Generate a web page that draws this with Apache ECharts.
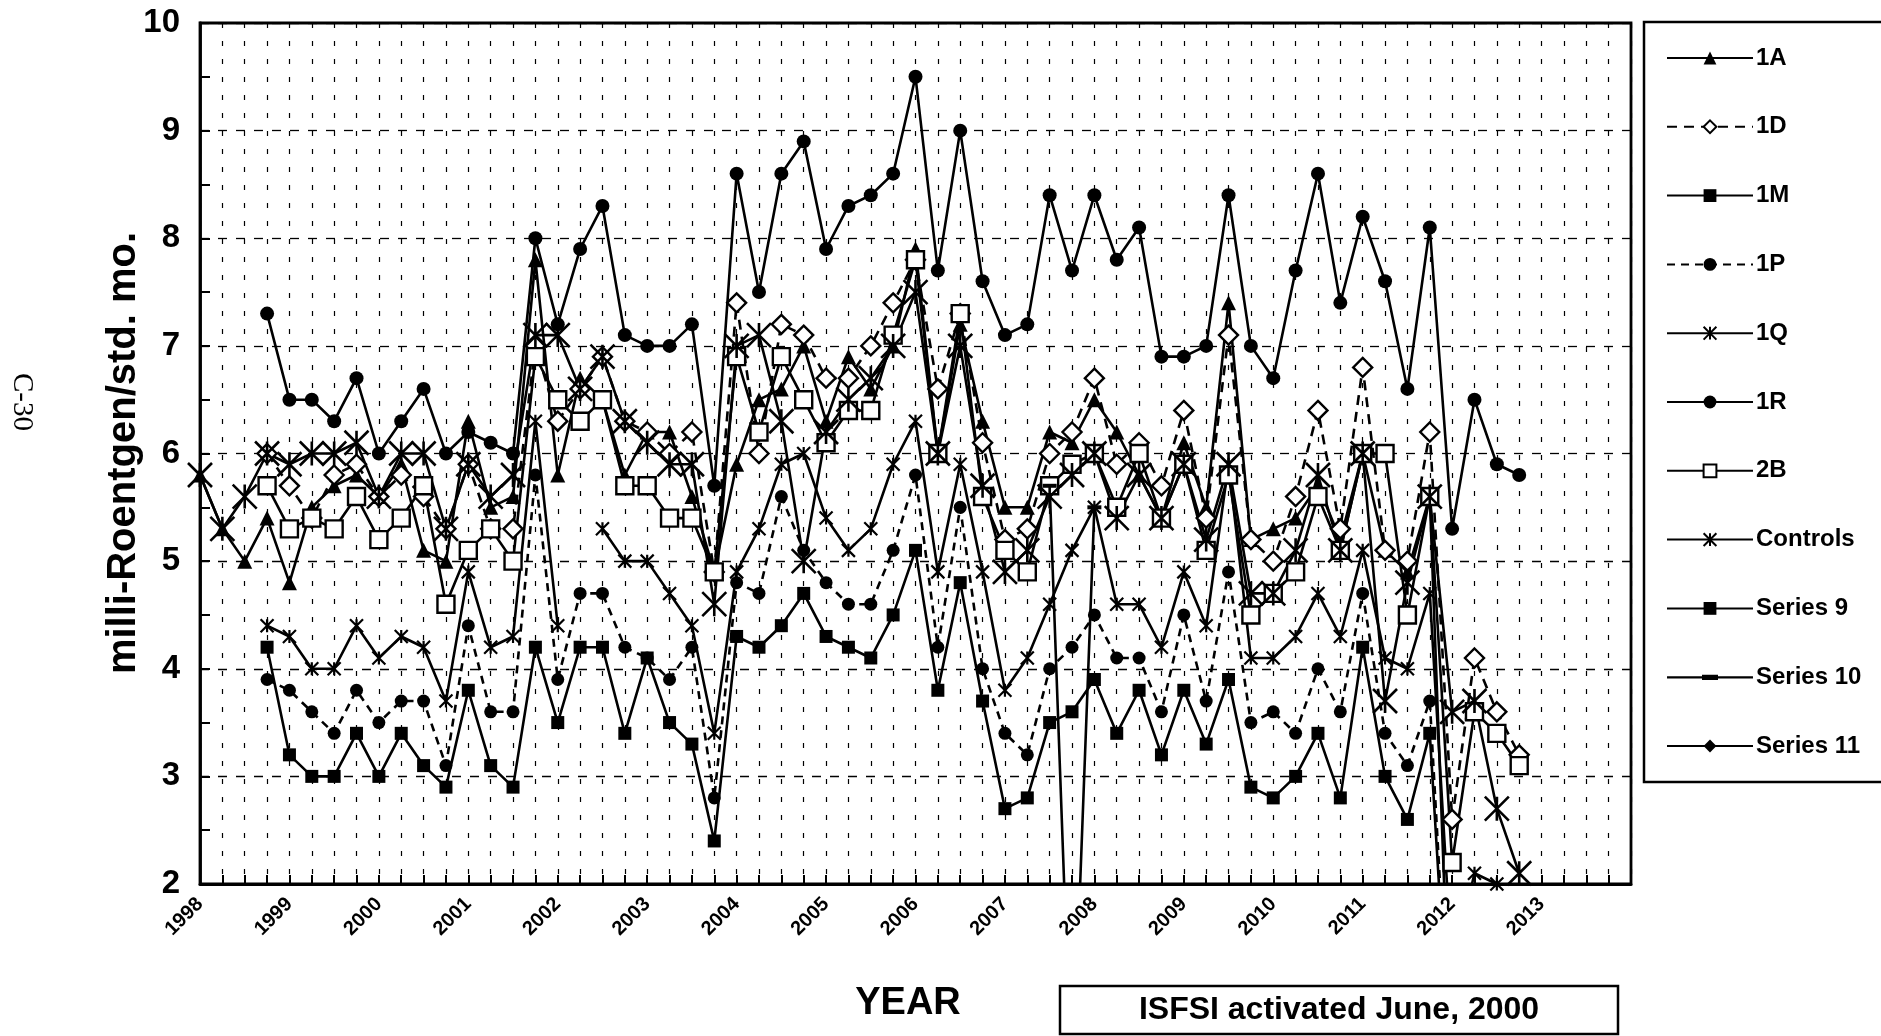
<!DOCTYPE html>
<html>
<head>
<meta charset="utf-8">
<script src="https://cdn.jsdelivr.net/npm/echarts/dist/echarts.min.js"></script>
<style>
html,body{margin:0;padding:0;background:#fff;}
#chart{width:1881px;height:1036px;}
</style>
</head>
<body>
<div id="chart"></div>
<script>
// ---------- DATA ----------
const years = ['1998','1999','2000','2001','2002','2003','2004','2005','2006','2007','2008','2009','2010','2011','2012','2013','2014'];
const yearLabels = ['1998','1999','2000','2001','2002','2003','2004','2005','2006','2007','2008','2009','2010','2011','2012','2013'];
const quarters = ['Q1','Q2','Q3','Q4'];
const yTicks = [2,3,4,5,6,7,8,9,10];

const s1A = [5.8,5.3,5.0,5.4,4.8,5.5,5.7,5.8,5.6,5.9, 5.1,5.0,6.3,5.5,5.6,7.8,5.8,6.7,6.5,5.8,
             6.2,6.2,5.6,4.9,5.9,6.5,6.6,7.0,6.3,6.9, 6.6,7.0,7.9,6.0,7.2,6.3,5.5,5.5,6.2,6.1,
             6.5,6.2,5.8,5.4,6.1,5.5,7.4,5.2,5.3,5.4, 5.7,5.2,6.0,5.1,4.9,5.6,0];
const s1D = [null,null,null,6.0,5.7,5.4,5.8,5.9,5.6,5.8, 5.6,5.3,5.9,5.3,5.3,7.0,6.3,6.6,6.9,6.3,
             6.2,6.0,6.2,4.9,7.4,6.0,7.2,7.1,6.7,6.7, 7.0,7.4,7.8,6.6,7.3,6.1,5.2,5.3,6.0,6.2,
             6.7,5.9,6.1,5.7,6.4,5.4,7.1,5.2,5.0,5.6, 6.4,5.3,6.8,5.1,5.0,6.2,2.6,4.1,3.6,3.2];
const s1M = [null,null,null,4.2,3.2,3.0,3.0,3.4,3.0,3.4, 3.1,2.9,3.8,3.1,2.9,4.2,3.5,4.2,4.2,3.4,
             4.1,3.5,3.3,2.4,4.3,4.2,4.4,4.7,4.3,4.2, 4.1,4.5,5.1,3.8,4.8,3.7,2.7,2.8,3.5,3.6,
             3.9,3.4,3.8,3.2,3.8,3.3,3.9,2.9,2.8,3.0, 3.4,2.8,4.2,3.0,2.6,3.4,0];
const s1P = [null,null,null,3.9,3.8,3.6,3.4,3.8,3.5,3.7, 3.7,3.1,4.4,3.6,3.6,5.8,3.9,4.7,4.7,4.2,
             4.1,3.9,4.2,2.8,4.8,4.7,5.6,5.1,4.8,4.6, 4.6,5.1,5.8,4.2,5.5,4.0,3.4,3.2,4.0,4.2,
             4.5,4.1,4.1,3.6,4.5,3.7,4.9,3.5,3.6,3.4, 4.0,3.6,4.7,3.4,3.1,3.7,0];
const s1Q = [null,null,null,4.4,4.3,4.0,4.0,4.4,4.1,4.3, 4.2,3.7,4.9,4.2,4.3,6.3,4.4,null,5.3,5.0,
             5.0,4.7,4.4,3.4,4.9,5.3,5.9,6.0,5.4,5.1, 5.3,5.9,6.3,4.9,5.9,4.9,3.8,4.1,4.6,5.1,
             5.5,4.6,4.6,4.2,4.9,4.4,5.9,4.1,4.1,4.3, 4.7,4.3,5.1,4.1,4.0,4.7,1.2,2.1,2.0,1.6];
const s1R = [null,null,null,7.3,6.5,6.5,6.3,6.7,6.0,6.3, 6.6,6.0,6.2,6.1,6.0,8.0,7.2,7.9,8.3,7.1,
             7.0,7.0,7.2,5.7,8.6,7.5,8.6,8.9,7.9,8.3, 8.4,8.6,9.5,7.7,9.0,7.6,7.1,7.2,8.4,7.7,
             8.4,7.8,8.1,6.9,6.9,7.0,8.4,7.0,6.7,7.7, 8.6,7.4,8.2,7.6,6.6,8.1,5.3,6.5,5.9,5.8];
const s2B = [null,null,null,5.7,5.3,5.4,5.3,5.6,5.2,5.4, 5.7,4.6,5.1,5.3,5.0,6.9,6.5,6.3,6.5,5.7,
             5.7,5.4,5.4,4.9,6.9,6.2,6.9,6.5,6.1,6.4, 6.4,7.1,7.8,6.0,7.3,5.6,5.1,4.9,5.7,5.9,
             6.0,5.5,6.0,5.4,5.9,5.1,5.8,4.5,4.7,4.9, 5.6,5.1,6.0,6.0,4.5,5.6,2.2,3.6,3.4,3.1];
const sControls = [5.8,5.3,5.6,6.0,5.9,6.0,6.0,6.1,5.6,6.0, 6.0,5.3,5.9,5.6,5.8,7.1,7.1,6.6,6.9,6.3,
             6.1,5.9,5.9,4.6,7.0,7.1,6.3,5.0,6.2,6.5, 6.7,7.0,7.5,6.0,7.0,5.7,4.9,5.1,5.6,5.8,
             6.0,5.4,5.8,5.4,5.9,5.2,5.9,4.7,4.7,5.1, 5.8,5.1,6.0,3.7,4.8,5.6,3.6,3.7,2.7,2.1];
const s9 = [];
const s10 = [null,null,null,null,null,null,null,null,null,null, null,null,null,null,null,null,null,null,null,null,
             null,null,null,null,null,null,null,null,null,null, null,null,null,null,null,null,null,null,5.7,0,
             5.5];
const s11 = [];

// ---------- BUILD ----------
const categories = [];
years.forEach(y => quarters.forEach(q => categories.push(y + ' ' + q)));
categories.length = 65;

const FONT = 'Liberation Sans, Arial, sans-serif';
const STAR = 'path://M0,0L20,20M20,0L0,20M10,0L10,20';
const DASH = 'path://M0,0L20,0L20,5L0,5Z';
// legend icon for Series 10: a line with a short thick dash in the middle
const DASH_LEGEND = 'path://M0,0L0.01,0L0.01,0.01ZM0,16L0.01,16L0.01,16.01ZM0,7L86,7L86,9.4L0,9.4ZM35,5.6L51,5.6L51,10.8L35,10.8Z';

function mk(name, data, symbol, size, opts) {
  opts = opts || {};
  return {
    name: name,
    type: 'line',
    data: data,
    symbol: symbol,
    symbolSize: size,
    showAllSymbol: true,
    connectNulls: false,
    animation: false,
    z: opts.z || 2,
    lineStyle: { color: '#000', width: 2.6, type: opts.dash || 'solid' },
    itemStyle: opts.open
      ? { color: '#fff', borderColor: '#000', borderWidth: 2.4 }
      : (opts.stroke ? { color: '#000', borderColor: '#000', borderWidth: opts.stroke }
                     : { color: '#000', borderColor: '#000', borderWidth: 0 }),
    emphasis: { disabled: true }
  };
}

const series = [
  mk('1A', s1A, 'triangle', 15),
  mk('1D', s1D, 'diamond', 19, { open: true, dash: [10, 7] }),
  mk('1M', s1M, 'rect', 13),
  mk('1P', s1P, 'circle', 13, { dash: [8, 6] }),
  mk('1Q', s1Q, STAR, 13, { stroke: 2.2 }),
  mk('1R', s1R, 'circle', 14, { z: 3 }),
  mk('2B', s2B, 'rect', 17, { open: true }),
  mk('Controls', sControls, STAR, 24, { stroke: 2.6 }),
  mk('Series 9', s9, 'rect', 13),
  mk('Series 10', s10, DASH, [14, 4]),
  mk('Series 11', s11, 'diamond', 14)
];

const legendData = series.map(s => s.name === 'Series 10' ? { name: s.name, icon: DASH_LEGEND } : { name: s.name });

const chart = echarts.init(document.getElementById('chart'), null, { renderer: 'canvas' });
chart.setOption({
  backgroundColor: '#fff',
  animation: false,
  grid: {
    left: 200, right: 250, top: 23, bottom: 152,
    containLabel: false, outerBoundsMode: 'none',
    show: true, borderColor: '#000', borderWidth: 2.8, backgroundColor: 'transparent'
  },
  xAxis: {
    type: 'category',
    data: categories,
    boundaryGap: false,
    axisLine: { show: true, onZero: false, lineStyle: { color: '#000', width: 2.8 } },
    axisTick: { show: true, inside: true, length: 9, interval: 0, lineStyle: { color: '#000', width: 2 } },
    axisLabel: {
      show: true, interval: 0, rotate: 45, margin: 17,
      fontSize: 20, fontWeight: 'bold', color: '#000', fontFamily: FONT,
      formatter: function (v) {
        const parts = v.split(' ');
        return (parts[1] === 'Q1' && yearLabels.indexOf(parts[0]) >= 0) ? parts[0] : '';
      }
    },
    splitLine: { show: true, interval: 0, lineStyle: { color: '#000', width: 1.2, type: [5, 13] } }
  },
  yAxis: {
    type: 'value',
    min: yTicks[0], max: yTicks[yTicks.length - 1], interval: 1,
    axisLine: { show: true, lineStyle: { color: '#000', width: 2.8 } },
    axisTick: { show: true, inside: true, length: 10, lineStyle: { color: '#000', width: 2 } },
    minorTick: { show: true, splitNumber: 2, length: 10, lineStyle: { color: '#000', width: 2 } },
    splitLine: { show: true, lineStyle: { color: '#000', width: 1.3, type: [9, 9] } },
    minorSplitLine: { show: false },
    axisLabel: { show: true, margin: 20, fontSize: 33, fontWeight: 'bold', color: '#000', fontFamily: FONT }
  },
  legend: {
    show: true,
    orient: 'vertical',
    left: 1666, top: 46,
    itemWidth: 86, itemHeight: 16, itemGap: 44.8,
    selectedMode: false,
    padding: 0,
    textStyle: { fontSize: 24, fontWeight: 'bold', color: '#000', fontFamily: FONT, padding: [0, 0, 0, -2] },
    data: legendData
  },
  graphic: [
    { type: 'rect', shape: { x: 1644, y: 22, width: 270, height: 760 },
      style: { fill: 'none', stroke: '#000', lineWidth: 2.5 }, silent: true },
    { type: 'rect', shape: { x: 1060, y: 986, width: 558, height: 48 },
      style: { fill: '#fff', stroke: '#000', lineWidth: 2.5 }, silent: true },
    { type: 'text', x: 1339, y: 1010,
      style: { text: 'ISFSI activated June, 2000', fontSize: 32, fontWeight: 'bold', fontFamily: FONT,
               fill: '#000', align: 'center', verticalAlign: 'middle' }, silent: true },
    { type: 'text', x: 908, y: 1004,
      style: { text: 'YEAR', fontSize: 38, fontWeight: 'bold', fontFamily: FONT,
               fill: '#000', align: 'center', verticalAlign: 'middle' }, silent: true },
    { type: 'text', x: 124, y: 453, rotation: Math.PI / 2,
      style: { text: 'milli-Roentgen/std. mo.', fontSize: 40, fontWeight: 'bold', fontFamily: FONT,
               fill: '#000', align: 'center', verticalAlign: 'middle' }, silent: true },
    { type: 'text', x: 22, y: 402, rotation: -Math.PI / 2,
      style: { text: 'C-30', fontSize: 29, fontFamily: 'Liberation Serif, Times New Roman, serif',
               fill: '#000', align: 'center', verticalAlign: 'middle' }, silent: true }
  ],
  series: series
});
</script>
</body>
</html>
